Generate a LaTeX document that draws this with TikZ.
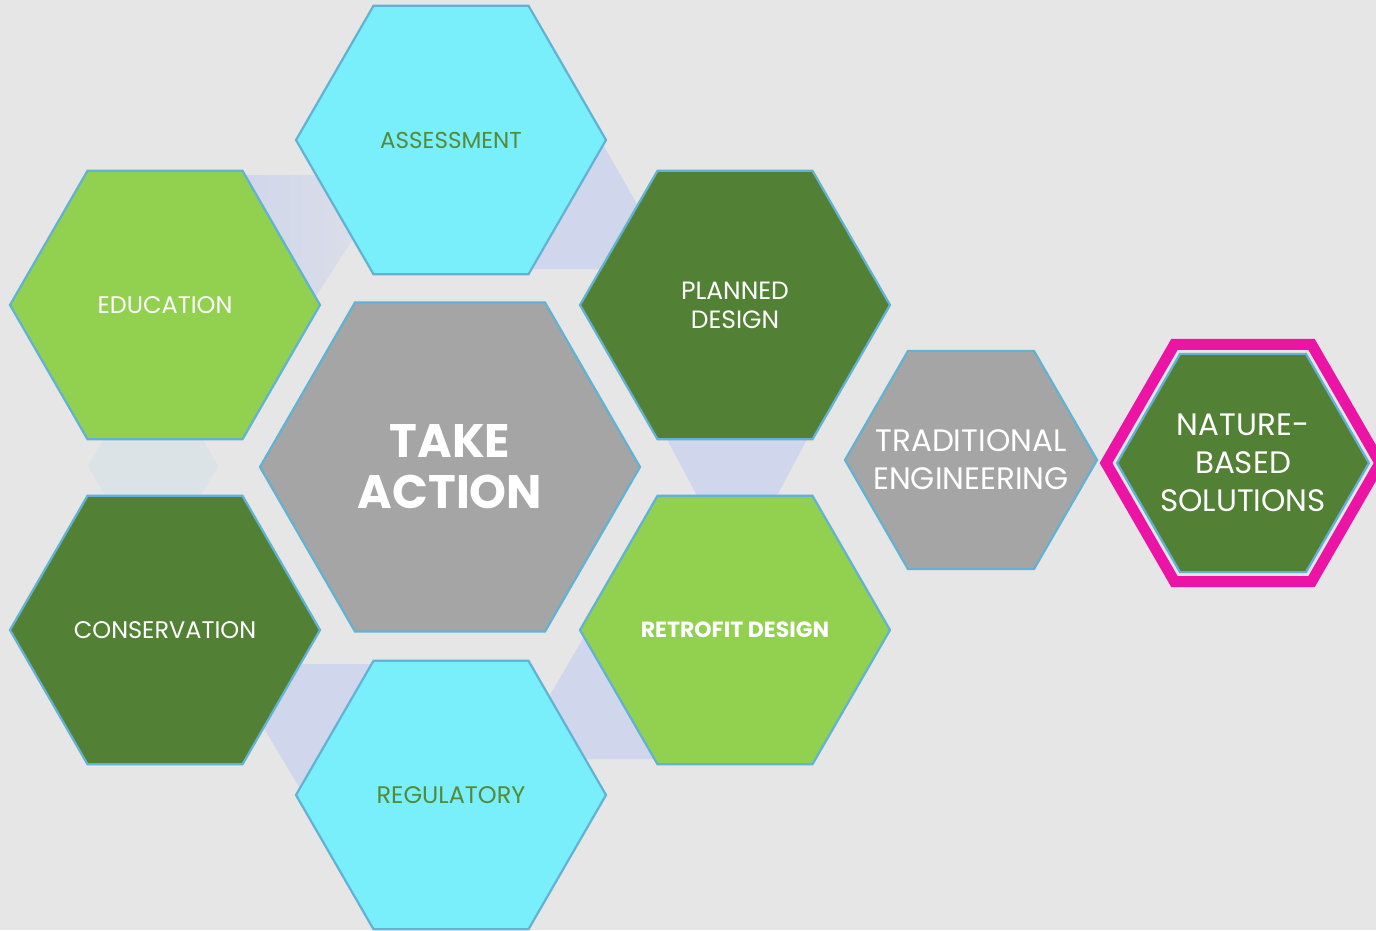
\documentclass[tikz,border=0pt]{standalone}
\usepackage{fontspec}
\setmainfont{Poppins}
\usepackage{xcolor}
\usepackage{tikz}
\usetikzlibrary{shapes.geometric}
\definecolor{BgGrey}{RGB}{230,230,230}
\definecolor{HexEdge}{RGB}{98,178,212}
\definecolor{HexCyan}{RGB}{120,239,250}
\definecolor{HexLime}{RGB}{146,208,80}
\definecolor{HexForest}{RGB}{82,129,53}
\definecolor{HexGrey}{RGB}{165,165,165}
\definecolor{LinkLav}{RGB}{208,214,235}
\definecolor{LinkFog}{RGB}{220,227,231}
\definecolor{NbsPink}{RGB}{235,20,165}
\definecolor{TxtGreen}{RGB}{84,138,58}
\tikzset{
	hexa/.style={regular polygon, regular polygon sides=6, draw=HexEdge, line width=2.2pt, inner sep=0pt, minimum size=#1},
	hexa/.default=310pt,
	lbl/.style={align=center, inner sep=0pt, text=white, font=\fontsize{24}{29}\selectfont},
	biglbl/.style={lbl, font=\fontsize{31}{38}\selectfont},
	link/.style={fill=LinkLav, draw=none},
}

\begin{document}
\begin{tikzpicture}[x=1pt, y=-1pt]
		\fill[BgGrey, use as bounding box] (0,0) rectangle (1376,930);

		% small links between the outer hexagons
		\fill[link, left color=LinkLav, right color=LinkLav!55!BgGrey] (238,175) -- (320,175) -- (352,240) -- (312,302) -- cycle;
		\fill[link] (597,134) -- (650,227) -- (620,269) -- (528,269) -- cycle;
		\fill[link] (662,430) -- (812,430) -- (772,505) -- (702,505) -- cycle;
		\fill[link] (594,620) -- (547,700) -- (580,759) -- (660,759) -- cycle;
		\fill[link] (295,664) -- (380,664) -- (302,792) -- (247,700) -- cycle;
		\node[hexa=130pt, draw=none, fill=LinkFog] (link6) at (153,466) {};

		\node[hexa=380pt, fill=HexGrey] (action) at (450,467) {};
		\node[hexa, fill=HexCyan] (assess) at (451,140) {};
		\node[hexa, fill=HexForest] (plan) at (735,305) {};
		\node[hexa, fill=HexLime] (retro) at (735,630) {};
		\node[hexa, fill=HexCyan] (regul) at (451,795) {};
		\node[hexa, fill=HexForest] (conserv) at (165,630) {};
		\node[hexa, fill=HexLime] (edu) at (165,305) {};

		\node[hexa=252pt, fill=HexGrey] (trad) at (971,460) {};
		\node[hexa=274pt, draw=NbsPink, line width=11pt] (nbsring) at (1243,463) {};
		\node[hexa=252pt, fill=HexForest] (nbs) at (1243,463) {};

		\node[lbl, font=\fontsize{47}{51}\selectfont\bfseries] at (action) {TAKE\\ACTION};
		\node[lbl, text=TxtGreen, font=\fontsize{23}{29}\selectfont] at (assess) {ASSESSMENT};
		\node[lbl, font=\fontsize{25}{29}\selectfont] at (plan) {PLANNED\\DESIGN};
		\node[lbl, font=\fontsize{22}{29}\selectfont\bfseries] at (retro) {RETROFIT DESIGN};
		\node[lbl, text=TxtGreen] at (regul) {REGULATORY};
		\node[lbl] at (conserv) {CONSERVATION};
		\node[lbl] at (edu) {EDUCATION};
		\node[biglbl] at (trad) {TRADITIONAL\\ENGINEERING};
		\node[biglbl] at (nbs) {NATURE-\\BASED\\SOLUTIONS};
	\end{tikzpicture}
\end{document}
